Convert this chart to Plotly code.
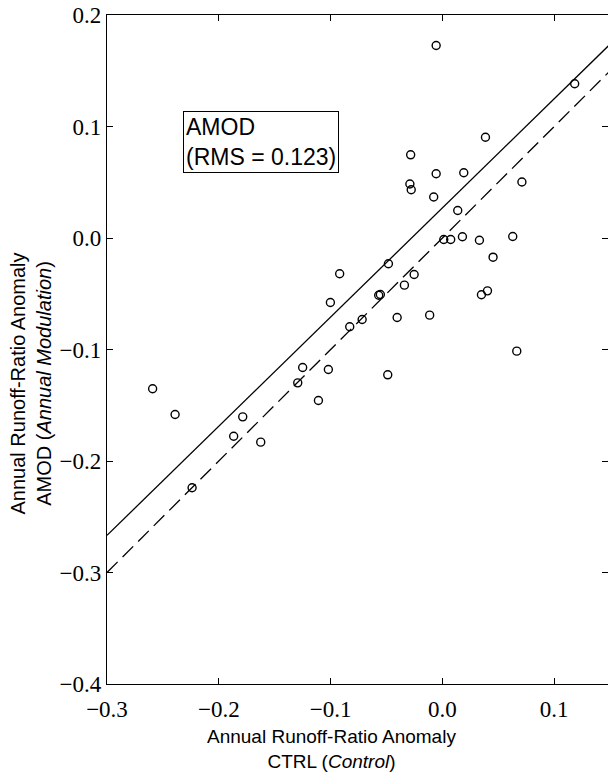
import plotly.graph_objects as go

# CTRL (x) vs AMOD (y) annual runoff-ratio anomalies
ctrl = [-0.0056, 0.1183, 0.0385, -0.0284, -0.0056, 0.0191, 0.0711, -0.0291, -0.0279,
        -0.0078, 0.0137, 0.0012, 0.0074, 0.0179, 0.0331, 0.0629, 0.0453, -0.0919,
        -0.0483, -0.0253, -0.0340, -0.0555, -0.0570, 0.0403, 0.0349, -0.1002,
        -0.0829, -0.0718, -0.0405, -0.0114, 0.0665, -0.0489, -0.1020, -0.1250,
        -0.1294, -0.1109, -0.2592, -0.2391, -0.1786, -0.1867, -0.1625, -0.2239]
amod = [0.1726, 0.1383, 0.0904, 0.0746, 0.0576, 0.0585, 0.0502, 0.0484, 0.0433,
        0.0368, 0.0247, -0.0013, -0.0013, 0.0011, -0.0020, 0.0013, -0.0172, -0.0321,
        -0.0231, -0.0327, -0.0423, -0.0507, -0.0513, -0.0474, -0.0509, -0.0578,
        -0.0796, -0.0731, -0.0713, -0.0692, -0.1015, -0.1227, -0.1179, -0.1161,
        -0.1299, -0.1457, -0.1352, -0.1583, -0.1604, -0.1778, -0.1831, -0.2240]

fit_slope = 0.979
fit_intercept = 0.027
line_x = [-0.3, 0.16]

x_ticks = [-0.3, -0.2, -0.1, 0.0, 0.1]
y_ticks = [0.2, 0.1, 0.0, -0.1, -0.2, -0.3, -0.4]

x_range = [-0.3, 0.1481]
y_range = [-0.4, 0.2]

fig = go.Figure()
fig.add_trace(go.Scatter(
    x=line_x, y=[fit_slope * v + fit_intercept for v in line_x],
    mode="lines", line=dict(color="black", width=1.3), showlegend=False))
fig.add_trace(go.Scatter(
    x=line_x, y=line_x, mode="lines",
    line=dict(color="black", width=1.3, dash="15px,7px"), showlegend=False))
fig.add_trace(go.Scatter(
    x=ctrl, y=amod, mode="markers",
    marker=dict(symbol="circle-open", size=8, color="black", line=dict(width=1.4, color="black")),
    showlegend=False))
# invisible trace on right axis for mirrored ticks
fig.add_trace(go.Scatter(x=[None], y=[None], yaxis="y2", showlegend=False))

tickfont = dict(family="Liberation Serif", size=23, color="black")

fig.update_layout(
    width=608, height=772,
    margin=dict(l=107, r=0, t=15, b=88),
    paper_bgcolor="white", plot_bgcolor="white",
    xaxis=dict(range=x_range, tickvals=x_ticks, tickformat=".1f",
               ticks="inside", ticklen=6, tickwidth=1, tickcolor="black",
               showline=True, linecolor="black", linewidth=1.2, mirror="ticks",
               showgrid=False, zeroline=False, tickfont=tickfont,
               ticklabelstandoff=4),
    yaxis=dict(range=y_range, tickvals=y_ticks, tickformat=".1f",
               ticks="inside", ticklen=6, tickwidth=1, tickcolor="black",
               showline=True, linecolor="black", linewidth=1.2,
               showgrid=False, zeroline=False, tickfont=tickfont),
    yaxis2=dict(range=y_range, tickvals=y_ticks, overlaying="y", side="right",
                ticks="inside", ticklen=6, tickwidth=1, tickcolor="black",
                showticklabels=False, showline=False, showgrid=False, zeroline=False),
    font=dict(family="Liberation Sans", color="black"),
)

fig.add_annotation(
    x=-0.2317, y=0.1143, xref="x", yref="y", xanchor="left", yanchor="top",
    text="AMOD<br>(RMS = 0.123)", showarrow=False, align="left",
    font=dict(family="Liberation Sans", size=23, color="black"),
    bordercolor="black", borderwidth=1, borderpad=2, bgcolor="white")

fig.add_annotation(
    x=0.449, y=-0.097, xref="paper", yref="paper", xanchor="center", yanchor="middle",
    text="Annual Runoff-Ratio Anomaly<br>CTRL (<i>Control</i>)", showarrow=False,
    font=dict(family="Liberation Sans", size=19, color="black"))

fig.add_annotation(
    x=-0.152, y=0.449, xref="paper", yref="paper", xanchor="center", yanchor="middle",
    text="Annual Runoff-Ratio Anomaly<br>AMOD (<i>Annual Modulation</i>)", showarrow=False,
    textangle=-90,
    font=dict(family="Liberation Sans", size=20, color="black"))

fig.write_html("out.html")
